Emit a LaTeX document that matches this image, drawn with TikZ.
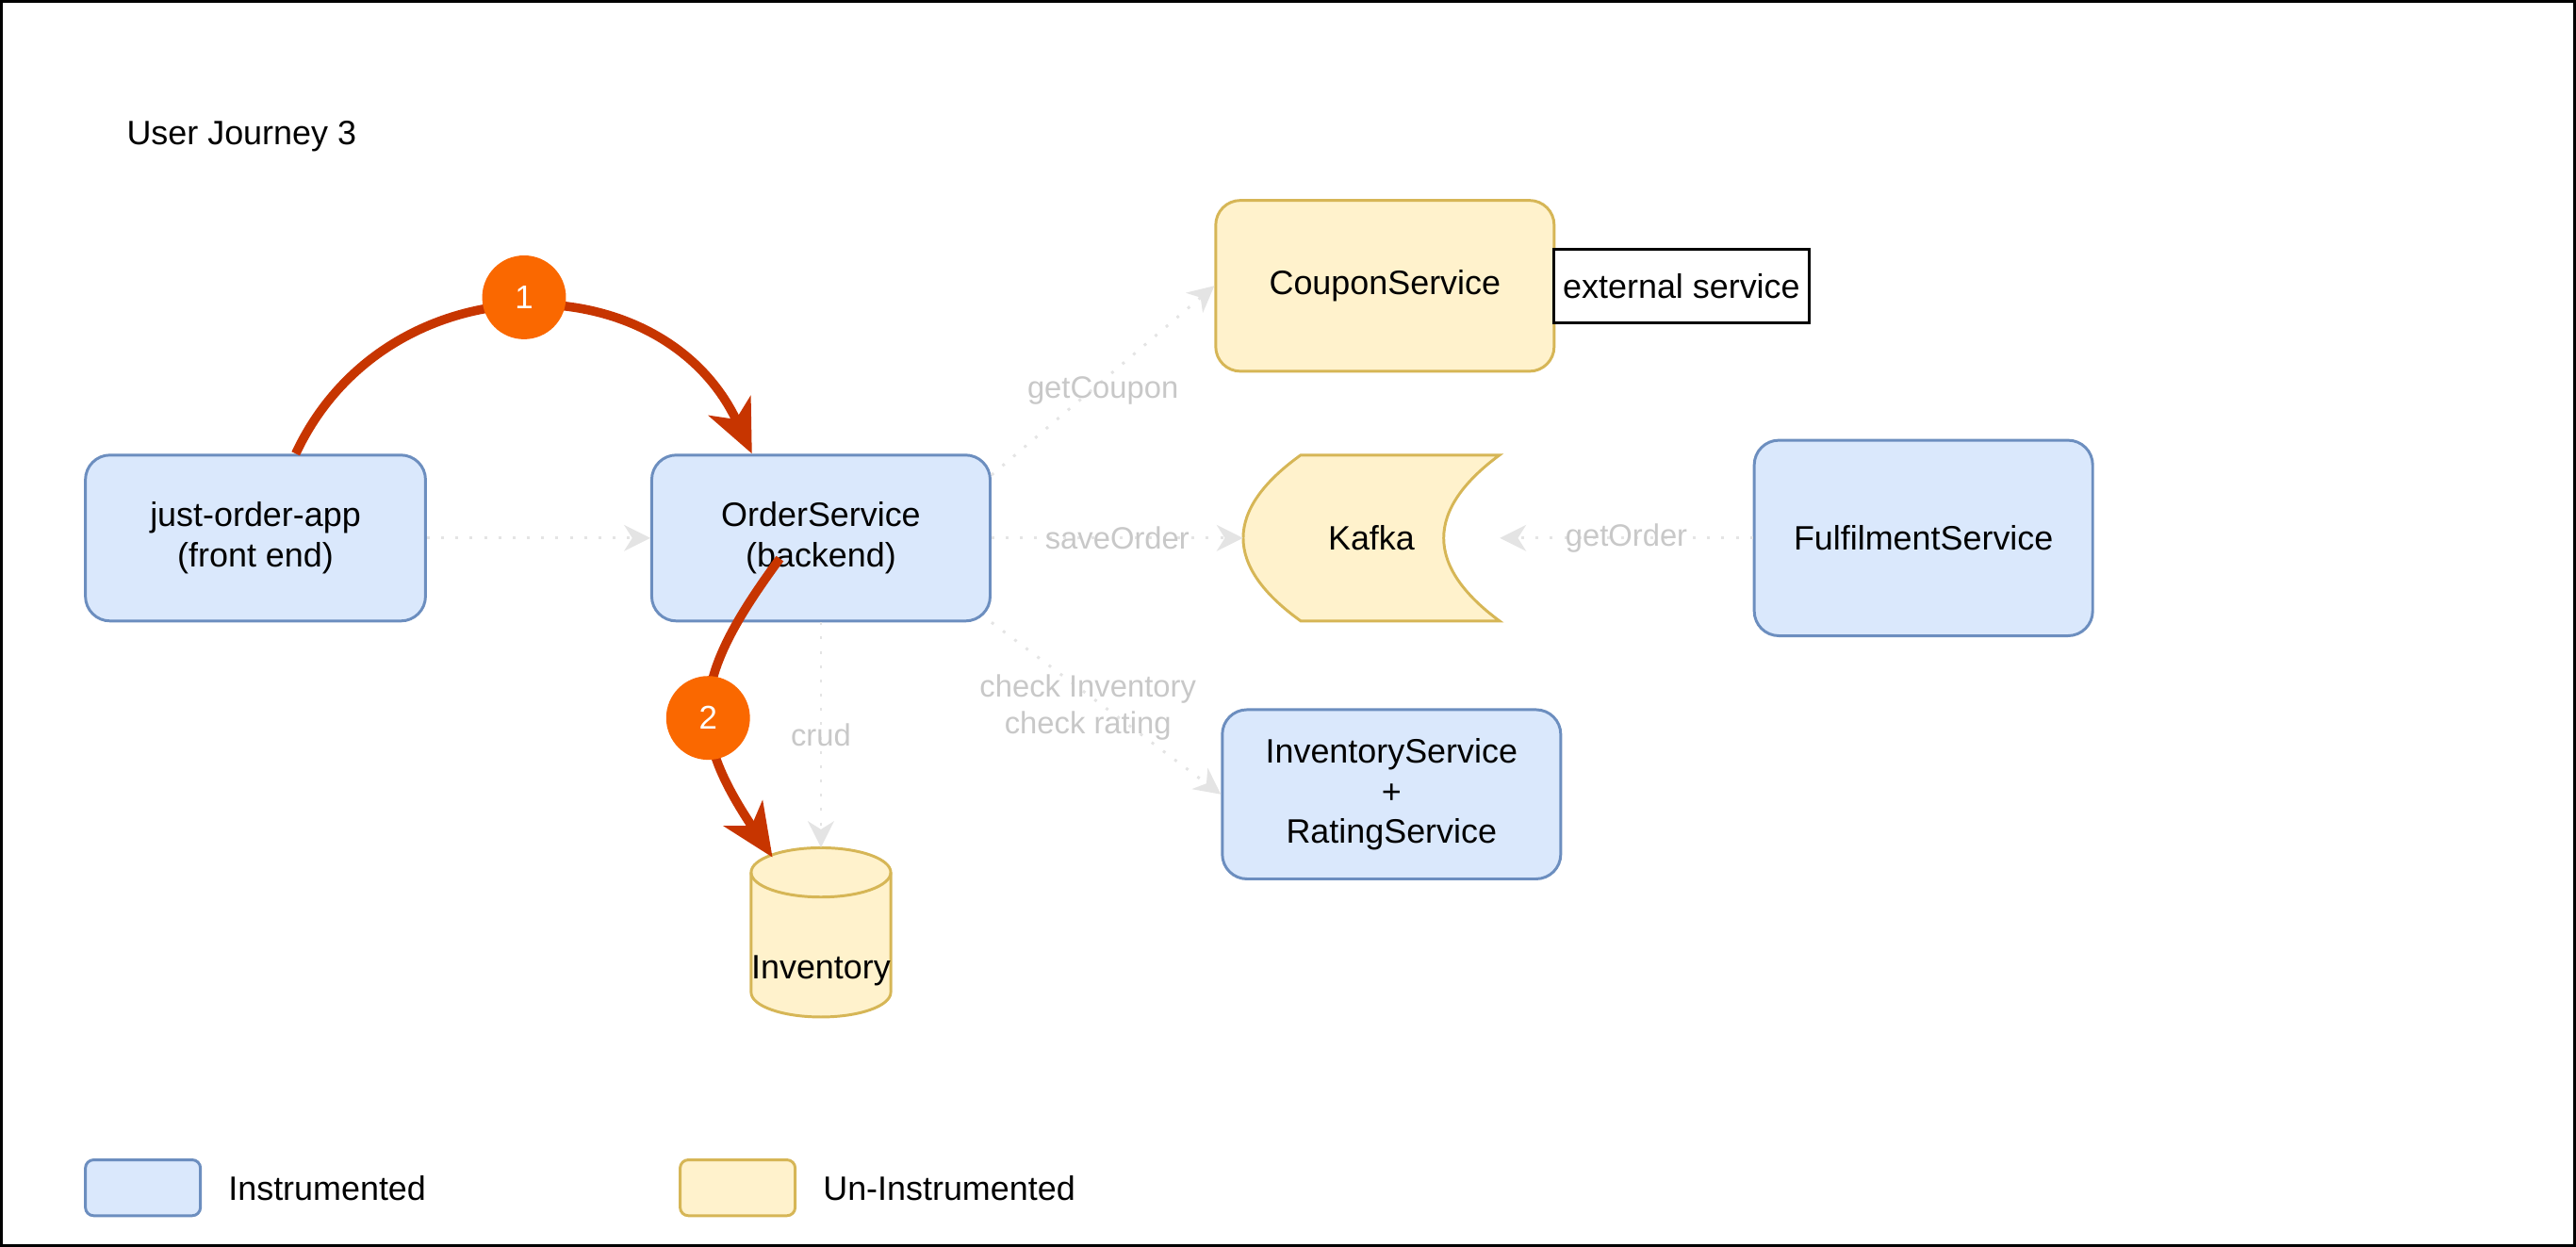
\documentclass[tikz,border=0pt]{standalone}
\usepackage{fontspec}
\setmainfont{Liberation Sans}
\usetikzlibrary{positioning,arrows.meta}
\definecolor{bluefill}{HTML}{DAE8FC}
\definecolor{bluedraw}{HTML}{6C8EBF}
\definecolor{yelfill}{HTML}{FFF2CC}
\definecolor{yeldraw}{HTML}{D6B656}
\definecolor{redline}{HTML}{C73500}
\definecolor{badgefill}{HTML}{FA6800}
\definecolor{flowgray}{HTML}{E4E4E4}
\definecolor{lblgray}{HTML}{C8C8C8}
\newcommand{\boxfont}{\fontsize{20.6}{24.5}\selectfont}
\newcommand{\lblfont}{\fontsize{18.8}{22.5}\selectfont}
\pgfdeclarelayer{background}
\pgfsetlayers{background,main}
\begin{document}
\begin{tikzpicture}[x=1pt, y=1pt,
    inst/.style={draw=bluedraw, fill=bluefill, line width=1.7pt, rounded corners=15pt, minimum width=206pt, minimum height=101pt, align=center, font=\boxfont},
    uninst/.style={inst, draw=yeldraw, fill=yelfill},
    shapeline/.style={draw=yeldraw, fill=yelfill, line width=1.7pt},
    flow/.style={->, >={Stealth[length=16pt,width=16pt,inset=5pt]}, color=flowgray, line width=1.7pt, dash pattern=on 1.7pt off 7pt},
    lbl/.style={text=lblgray, font=\lblfont, align=center},
    hot/.style={->, >={Stealth[length=32pt,width=28pt,inset=9pt]}, color=redline, line width=5.5pt},
    badge/.style={circle, fill=badgefill, text=white, minimum size=51pt, inner sep=0pt, font=\fontsize{20}{24}\selectfont}]
    \useasboundingbox (0,0) rectangle (1568,759);
    \draw[line width=1.9pt] (0.95,0.95) rectangle (1567.05,758.05);

    \node (title) [anchor=west, inner sep=0pt, font=\boxfont] at (77,676) {User Journey 3};

    \node (app) [inst, minimum width=207pt] at (155.5,431.5) {just-order-app\\(front end)};
    \node (order) [inst, right=136pt of app] {OrderService\\(backend)};
    \node (kafka) [right=153pt of order, minimum width=156pt, minimum height=101pt, font=\boxfont] {Kafka};
    \node (fulfil) [inst, right=154pt of kafka, minimum height=119pt] {FulfilmentService};
    \node (coupon) [uninst, minimum height=104pt] at (843,585) {CouponService};
    \node (ext) [right=-1.7pt of coupon, draw=black, fill=white, line width=1.7pt, minimum width=155pt, minimum height=45pt, font=\boxfont] {external service};
    \node (inv) [inst, minimum height=103pt] at (847,275.5) {InventoryService\\+\\RatingService};
    \node (db) [below=137pt of order, minimum width=85pt, minimum height=103pt, inner sep=0pt, text height=60pt, text depth=3pt, font=\boxfont] {Inventory};

    \begin{pgfonlayer}{background}
        \begin{scope}[shift={(kafka.center)}]
            \draw[shapeline] (-43,50.5) -- (78,50.5) .. controls (32.7,17) and (32.7,-17) .. (78,-50.5) -- (-43,-50.5) .. controls (-89.7,-17) and (-89.7,17) .. (-43,50.5) -- cycle;
        \end{scope}
        \begin{scope}[shift={(db.center)}]
            \draw[shapeline] (-42.5,36.5) -- (-42.5,-36.5) arc[start angle=180, end angle=360, x radius=42.5pt, y radius=15pt] -- (42.5,36.5) arc[start angle=0, end angle=180, x radius=42.5pt, y radius=15pt] -- cycle;
            \draw[draw=yeldraw, line width=1.7pt] (-42.5,36.5) arc[start angle=180, end angle=360, x radius=42.5pt, y radius=15pt];
        \end{scope}
    \end{pgfonlayer}

    \node (leg1) [inst, minimum width=70pt, minimum height=34pt, rounded corners=5pt] at (87,36) {};
    \node (leg1t) [right=16pt of leg1, inner sep=0pt, font=\boxfont] {Instrumented};
    \node (leg2) [uninst, minimum width=70pt, minimum height=34pt, rounded corners=5pt] at (449,36) {};
    \node (leg2t) [right=16pt of leg2, inner sep=0pt, font=\boxfont] {Un-Instrumented};

    \path[flow] (app.east) edge (order.west);
    \path[flow] ([yshift=-13pt]order.north east) edge node[lbl, yshift=-6pt] {getCoupon} (coupon.west);
    \path[flow] (order.east) edge node[lbl] {saveOrder} (kafka.west);
    \path[flow] (fulfil.west) edge node[lbl] {getOrder} (kafka.east);
    \path[flow] (order.south east) edge node[lbl, pos=0.42, yshift=-8pt] {check Inventory\\check rating} (inv.west);
    \path[flow] (order.south) edge node[lbl] {crud} (db.north);

    \path[hot] ([xshift=24.5pt]app.north) edge [bend left=65, looseness=1.2] ([xshift=-42pt]order.north);
    \path[hot] ([xshift=-25pt, yshift=-12.5pt]order.center) edge [bend right=35, looseness=1.3] ([xshift=-29.5pt, yshift=-6pt]db.north);

    \node (n1) [badge] at (319,578) {1};
    \node (n2) [badge] at (431,322) {2};
\end{tikzpicture}
\end{document}
